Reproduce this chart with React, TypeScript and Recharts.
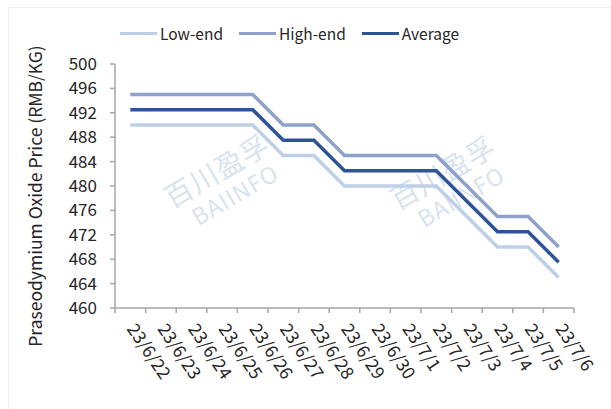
import React from 'react';
import { LineChart, Line, XAxis, YAxis } from 'recharts';

const dates = ['23/6/22', '23/6/23', '23/6/24', '23/6/25', '23/6/26', '23/6/27', '23/6/28', '23/6/29', '23/6/30', '23/7/1', '23/7/2', '23/7/3', '23/7/4', '23/7/5', '23/7/6'];
const lowEnd = [490, 490, 490, 490, 490, 485, 485, 480, 480, 480, 480, 475, 470, 470, 465];
const highEnd = [495, 495, 495, 495, 495, 490, 490, 485, 485, 485, 485, 480, 475, 475, 470];
const average = [492.5, 492.5, 492.5, 492.5, 492.5, 487.5, 487.5, 482.5, 482.5, 482.5, 482.5, 477.5, 472.5, 472.5, 467.5];
const yTicks = [460, 464, 468, 472, 476, 480, 484, 488, 492, 496, 500];

const data = dates.map((d, i) => ({ date: d, low: lowEnd[i], high: highEnd[i], avg: average[i] }));

const FONT = '"Noto Sans CJK SC", "Noto Sans", sans-serif';
const COLORS = { low: '#BDD0E8', high: '#8EA1CA', avg: '#2F5496' };
const TEXT = '#262626';
const AXIS = '#A6A6A6';
const HALF_BAND = 459 / dates.length / 2;

const XTick = (props: any) => {
  const { x, y, payload, index } = props;
  const axisY = y - 2;
  const isLast = index === dates.length - 1;
  return (
    <g>
      <line x1={x - HALF_BAND} x2={x - HALF_BAND} y1={axisY} y2={axisY + 5} stroke={AXIS} strokeWidth={1.5} />
      {isLast && <line x1={x + HALF_BAND} x2={x + HALF_BAND} y1={axisY} y2={axisY + 5} stroke={AXIS} strokeWidth={1.5} />}
      <text
        transform={`translate(${x - 4},${axisY + 21}) rotate(56)`}
        textAnchor="start"
        fontSize={17.5}
        fontFamily={FONT}
        fill={TEXT}
      >
        {payload.value}
      </text>
    </g>
  );
};

const legendItems = [
  { key: 'low', label: 'Low-end' },
  { key: 'high', label: 'High-end' },
  { key: 'avg', label: 'Average' },
];

const LegendBox = () => (
  <div style={{ position: 'absolute', left: 120, top: 21, height: 24, display: 'flex', alignItems: 'center', fontFamily: FONT, fontSize: 15.5, color: TEXT }}>
    {legendItems.map((it, i) => (
      <div key={it.key} style={{ display: 'flex', alignItems: 'center', marginRight: i < 2 ? 16 : 0 }}>
        <span style={{ display: 'inline-block', width: 37, height: 3, background: (COLORS as any)[it.key], marginRight: 3 }} />
        <span>{it.label}</span>
      </div>
    ))}
  </div>
);

const Watermark = ({ cx, cy }: { cx: number; cy: number }) => (
  <g transform={`translate(${cx},${cy}) rotate(-30)`} fill="#D9E3EE" fontFamily={FONT}>
    <text x={0} y={0} textAnchor="middle" fontSize={28} letterSpacing={1}>百川盈孚</text>
    <text x={4} y={28} textAnchor="middle" fontSize={23} letterSpacing={1}>BAIINFO</text>
  </g>
);

export default function App() {
  return (
    <div style={{ position: 'absolute', left: 0, top: 0, width: 611, height: 409, background: '#fff', overflow: 'hidden' }}>
      <div style={{ position: 'absolute', left: 8, top: 7, width: 700, height: 500, borderTop: '1px solid #F0F0F0', borderLeft: '1px solid #F0F0F0' }} />
      <svg style={{ position: 'absolute', left: 0, top: 0 }} width={611} height={409}>
        <Watermark cx={222} cy={180} />
        <Watermark cx={448} cy={182} />
        <text
          transform="translate(42,196) rotate(-90)"
          textAnchor="middle"
          fontSize={17.5}
          fontFamily={FONT}
          fill={TEXT}
        >
          Praseodymium Oxide Price (RMB/KG)
        </text>
      </svg>
      <LegendBox />
      <div style={{ position: 'absolute', left: 0, top: 0 }}>
        <LineChart width={611} height={409} data={data} margin={{ top: 64, right: 37, bottom: 0, left: 0 }}>
          <XAxis
            dataKey="date"
            interval={0}
            tick={<XTick />}
            tickLine={false}
            tickSize={0}
            tickMargin={2}
            padding={{ left: HALF_BAND, right: HALF_BAND }}
            axisLine={{ stroke: AXIS, strokeWidth: 1.5 }}
            height={101}
          />
          <YAxis
            width={115}
            domain={[460, 500]}
            ticks={yTicks}
            interval={0}
            tickSize={5}
            tickMargin={13}
            axisLine={{ stroke: AXIS, strokeWidth: 1.5 }}
            tickLine={{ stroke: AXIS, strokeWidth: 1.5 }}
            tick={{ fontSize: 17, fontFamily: FONT, fill: TEXT }}
          />
          <Line dataKey="low" name="Low-end" stroke={COLORS.low} strokeWidth={3.5} dot={false} isAnimationActive={false} />
          <Line dataKey="high" name="High-end" stroke={COLORS.high} strokeWidth={3.5} dot={false} isAnimationActive={false} />
          <Line dataKey="avg" name="Average" stroke={COLORS.avg} strokeWidth={3.5} dot={false} isAnimationActive={false} />
        </LineChart>
      </div>
    </div>
  );
}
